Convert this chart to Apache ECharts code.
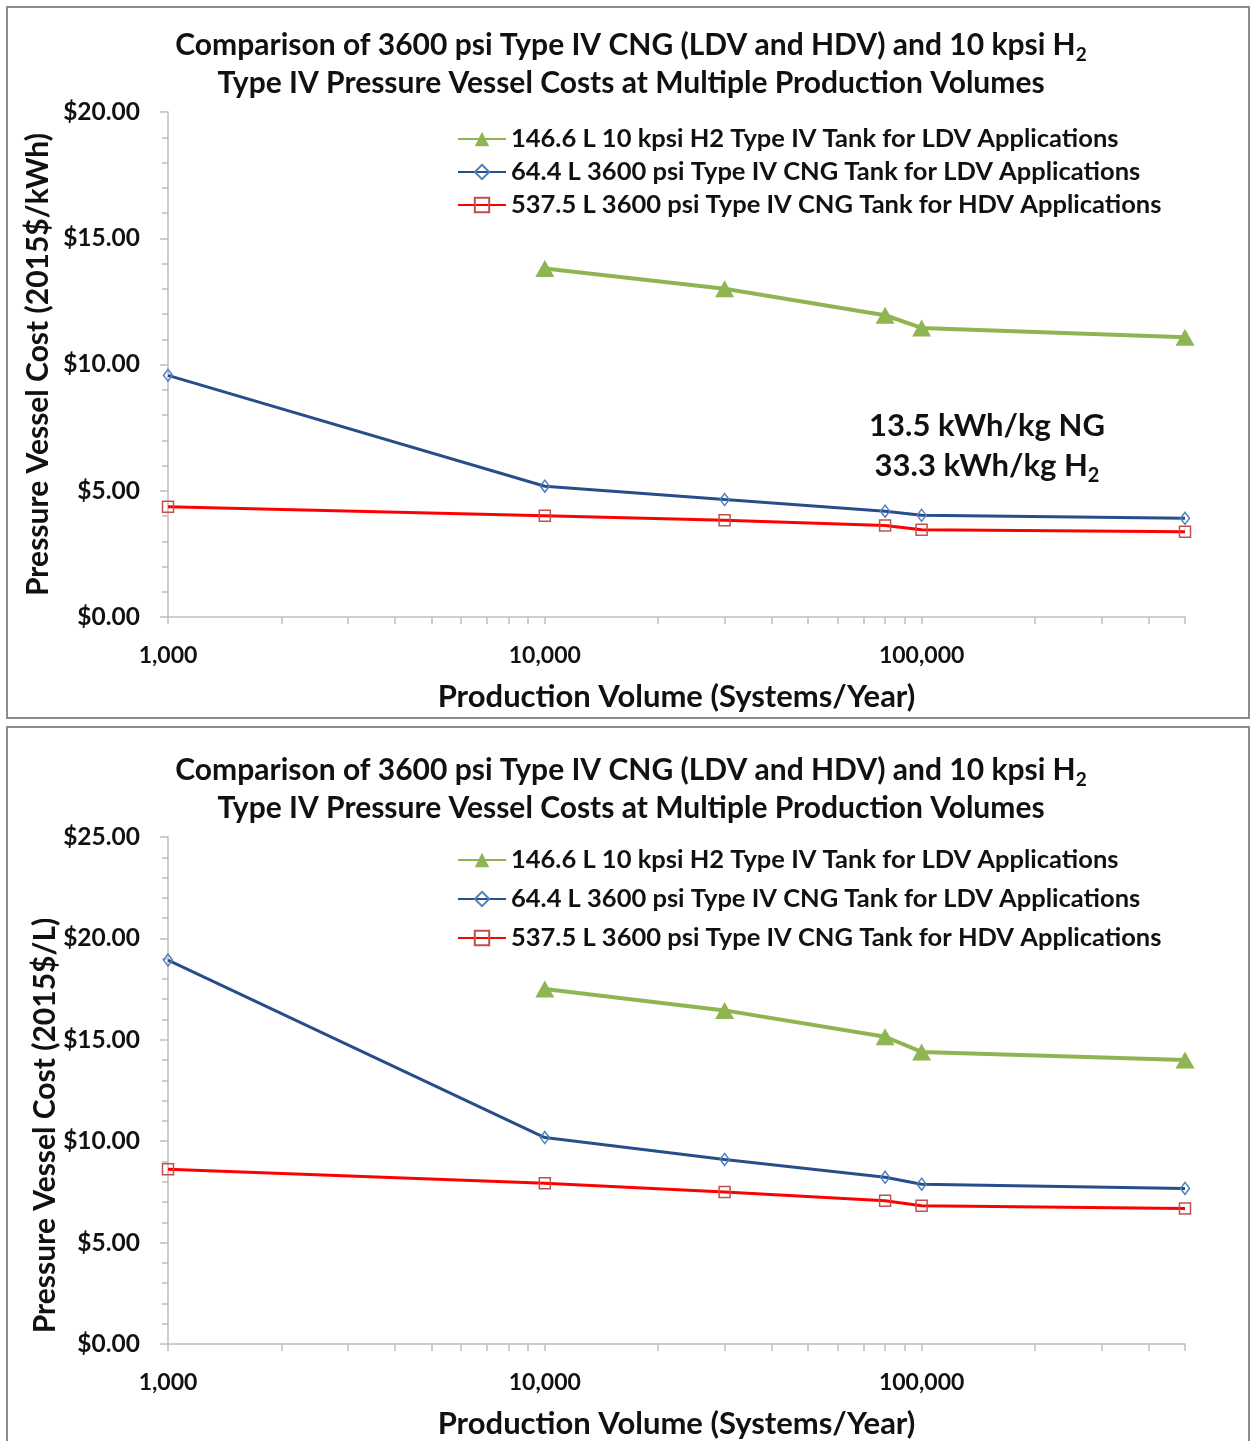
<!DOCTYPE html>
<html>
<head>
<meta charset="utf-8">
<script src="https://cdn.jsdelivr.net/npm/echarts@6/dist/echarts.min.js"></script>
<style>
  html, body { margin: 0; padding: 0; background: #fff; }
  #chart { width: 1251px; height: 1441px; }
</style>
</head>
<body>
<div id="chart"></div>
<script>
// ---- data ----
const volumes = [1000, 10000, 30000, 80000, 100000, 500000];
const seriesNames = [
  '146.6 L 10 kpsi H2 Type IV Tank for LDV Applications',
  '64.4 L 3600 psi Type IV CNG Tank for LDV Applications',
  '537.5 L 3600 psi Type IV CNG Tank for HDV Applications'
];
// top panel: cost per kWh
const h2Kwh     = [null, 13.80, 13.00, 11.95, 11.45, 11.08];
const cngLdvKwh = [9.57, 5.18, 4.65, 4.19, 4.03, 3.91];
const cngHdvKwh = [4.37, 4.01, 3.83, 3.62, 3.46, 3.38];
// bottom panel: cost per litre
const h2L       = [null, 17.50, 16.45, 15.15, 14.40, 14.00];
const cngLdvL   = [18.93, 10.18, 9.10, 8.22, 7.88, 7.67];
const cngHdvL   = [8.62, 7.93, 7.50, 7.06, 6.82, 6.68];
// axis ticks
const xLabelTicks = [1000, 10000, 100000];
const xMinorTicks = [1000, 2000, 3000, 4000, 5000, 6000, 7000, 8000, 9000,
  10000, 20000, 30000, 40000, 50000, 60000, 70000, 80000, 90000,
  100000, 200000, 300000, 400000, 500000];

const FONT = 'Lato';
const pairs = (vals) => volumes.map((v, i) => [v, vals[i]]);

const styles = [
  { color: '#8fb553', symbol: 'triangle', symbolSize: [19, 17], width: 4, fill: '#8fb553', border: '#8fb553', bw: 0 },
  { color: '#274e8a', symbol: 'diamond', symbolSize: [9, 12], width: 3, fill: 'rgba(255,255,255,0)', border: '#4f81bd', bw: 1.5 },
  { color: '#ff0000', symbol: 'rect', symbolSize: 11, width: 3, fill: 'rgba(255,255,255,0)', border: '#c0504d', bw: 1.5 }
];

function mkSeries(gi, valsArr) {
  return valsArr.map((vals, k) => ({
    name: seriesNames[k],
    type: 'line',
    xAxisIndex: gi, yAxisIndex: gi,
    data: pairs(vals),
    symbol: styles[k].symbol,
    symbolSize: styles[k].symbolSize,
    showAllSymbol: true,
    lineStyle: { color: styles[k].color, width: styles[k].width },
    itemStyle: { color: styles[k].fill, borderColor: styles[k].border, borderWidth: styles[k].bw },
    emphasis: { disabled: true },
    animation: false,
    z: 3 - k
  }));
}

const axisGray = '#bfbfbf';
function mkXAxis(gi) {
  return {
    type: 'log', gridIndex: gi, logBase: 10, min: 1000, max: 500000,
    name: 'Production Volume (Systems/Year)', nameLocation: 'middle', nameGap: 64,
    nameTextStyle: { fontFamily: FONT, fontWeight: 'bold', fontSize: 31, color: '#111' },
    axisLine: { show: true, lineStyle: { color: axisGray, width: 1.5 } },
    axisTick: { show: true, length: 7, customValues: xMinorTicks, lineStyle: { color: axisGray, width: 1.5 } },
    axisLabel: { customValues: xLabelTicks, margin: 27, fontFamily: FONT, fontWeight: 'bold', fontSize: 23, color: '#111',
      formatter: (v) => Number(v).toLocaleString('en-US') },
    splitLine: { show: false }, minorTick: { show: false }
  };
}
function mkYAxis(gi, max, name, gap, pad) {
  return {
    type: 'value', gridIndex: gi, min: 0, max: max, interval: 5,
    name: name, nameLocation: 'middle', nameRotate: 90, nameGap: gap, nameMoveOverlap: false,
    nameTextStyle: { fontFamily: FONT, fontWeight: 'bold', fontSize: 30, color: '#111', padding: pad },
    axisLine: { show: true, lineStyle: { color: axisGray, width: 1.5 } },
    axisTick: { show: true, length: 8, lineStyle: { color: axisGray, width: 1.5 } },
    minorTick: { show: true, splitNumber: 5, length: 6, lineStyle: { color: axisGray, width: 1.5 } },
    axisLabel: { margin: 28, fontFamily: FONT, fontWeight: 'bold', fontSize: 24.5, color: '#111',
      formatter: (v) => '$' + v.toFixed(2) },
    splitLine: { show: false }
  };
}

const titleLine = 'Comparison of 3600 psi Type IV CNG (LDV and HDV) and 10 kpsi H{sub|2}\nType IV Pressure Vessel Costs at Multiple Production Volumes';
const titleStyle = {
  fontFamily: FONT, fontWeight: 'bold', fontSize: 30, color: '#111', lineHeight: 38,
  rich: { sub: { fontFamily: FONT, fontWeight: 'bold', fontSize: 19, color: '#111', verticalAlign: 'bottom', lineHeight: 30 } }
};
function mkLegend(top, gap) {
  return {
    data: seriesNames, orient: 'vertical', left: 452, top: top,
    itemWidth: 48, itemHeight: 18, itemGap: gap,
    textStyle: { fontFamily: FONT, fontWeight: 'bold', fontSize: 25.5, color: '#111', lineHeight: 26 },
    selectedMode: false
  };
}

const option = {
  animation: false,
  backgroundColor: '#fff',
  title: [
    { text: titleLine, left: 626, top: 21, textAlign: 'center', textStyle: titleStyle },
    { text: titleLine, left: 626, top: 746, textAlign: 'center', textStyle: titleStyle }
  ],
  legend: [ mkLegend(121, 7), mkLegend(842, 13) ],
  grid: [
    { left: 168, top: 112, width: 1017, height: 505 },
    { left: 168, top: 837, width: 1017, height: 507 }
  ],
  xAxis: [ mkXAxis(0), mkXAxis(1) ],
  yAxis: [
    mkYAxis(0, 20, 'Pressure Vessel Cost (2015$/kWh)', 115, 0),
    mkYAxis(1, 25, 'Pressure Vessel Cost (2015$/L)', 108, [0, 70, 0, 0])
  ],
  series: [].concat(
    mkSeries(0, [h2Kwh, cngLdvKwh, cngHdvKwh]),
    mkSeries(1, [h2L, cngLdvL, cngHdvL])
  ),
  graphic: [
    { type: 'rect', shape: { x: 7, y: 7, width: 1242, height: 711 }, style: { fill: 'none', stroke: '#8c8c8c', lineWidth: 2 }, silent: true, z: -1 },
    { type: 'rect', shape: { x: 7, y: 727, width: 1242, height: 740 }, style: { fill: 'none', stroke: '#8c8c8c', lineWidth: 2 }, silent: true, z: -1 },
    { type: 'text', x: 987, y: 406, silent: true,
      style: {
        text: '13.5 kWh/kg NG\n33.3 kWh/kg H{sub|2}',
        fontFamily: FONT, fontWeight: 'bold', fontSize: 31, fill: '#111', lineHeight: 40,
        textAlign: 'center', textVerticalAlign: 'top',
        rich: { sub: { fontFamily: FONT, fontWeight: 'bold', fontSize: 20, fill: '#111', verticalAlign: 'bottom', lineHeight: 31 } }
      } }
  ]
};

const chart = echarts.init(document.getElementById('chart'), null, { renderer: 'canvas' });
chart.setOption(option);
</script>
</body>
</html>
